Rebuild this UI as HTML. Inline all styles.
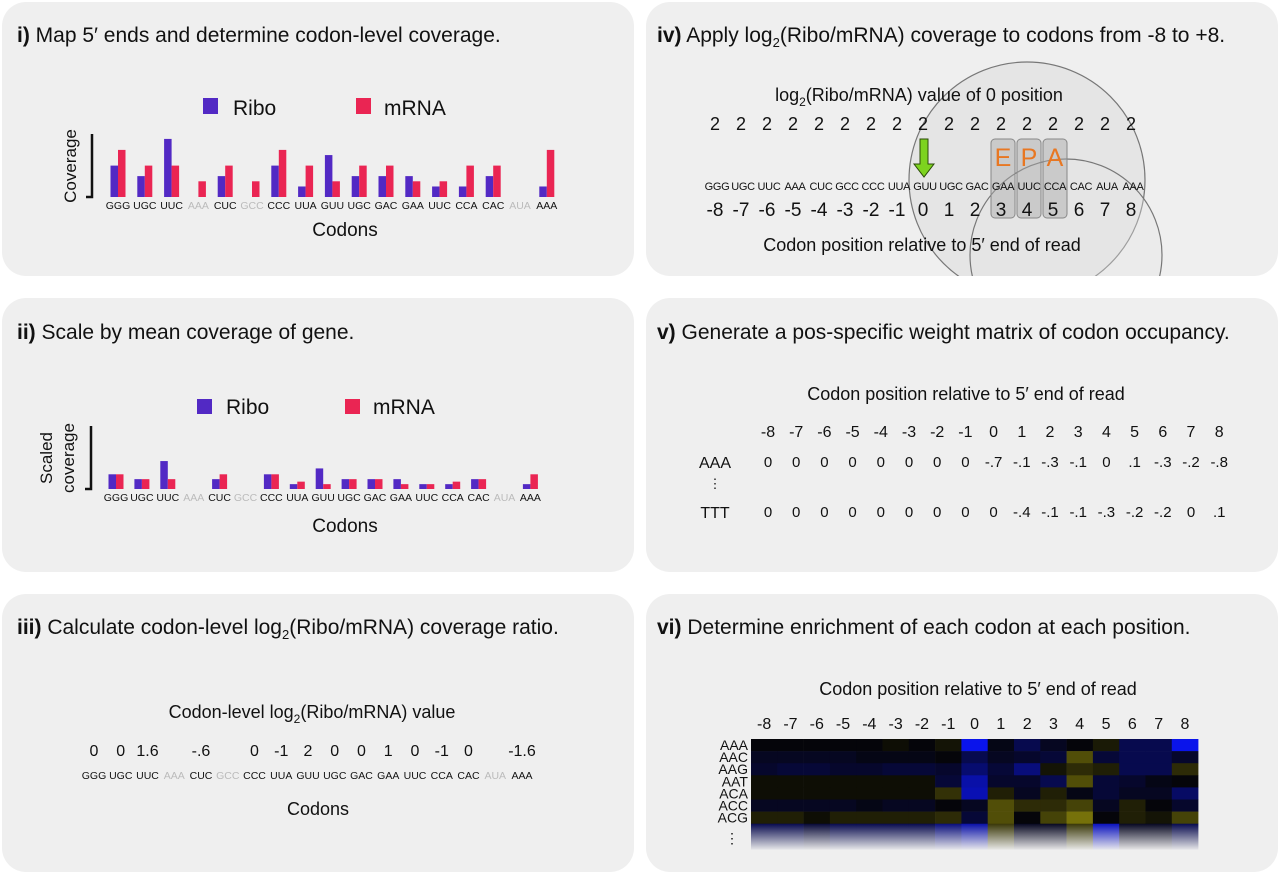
<!DOCTYPE html>
<html><head><meta charset="utf-8"><style>
html,body{margin:0;padding:0;background:#fff}
svg{display:block;font-family:"Liberation Sans",Arial,sans-serif}
</style></head><body>
<svg id="fig" width="1280" height="876" viewBox="0 0 1280 876" xmlns="http://www.w3.org/2000/svg">
<defs>
<linearGradient id="fadeG" x1="0" y1="0" x2="0" y2="1">
<stop offset="0" stop-color="#efefef" stop-opacity="0"/><stop offset="1" stop-color="#efefef" stop-opacity="1"/>
</linearGradient>
<clipPath id="clip4"><rect x="646" y="2" width="632" height="274" rx="24"/></clipPath>
</defs>
<rect x="2" y="2" width="632" height="274" rx="24" fill="#efefef"/>
<rect x="646" y="2" width="632" height="274" rx="24" fill="#efefef"/>
<rect x="2" y="298" width="632" height="274" rx="24" fill="#efefef"/>
<rect x="646" y="298" width="632" height="274" rx="24" fill="#efefef"/>
<rect x="2" y="594" width="632" height="278" rx="24" fill="#efefef"/>
<rect x="646" y="594" width="632" height="278" rx="24" fill="#efefef"/>

<g font-size="21" fill="#111">
<text x="17" y="42"><tspan font-weight="bold">i)</tspan> Map 5′ ends and determine codon-level coverage.</text>
<text x="17" y="339"><tspan font-weight="bold">ii)</tspan> Scale by mean coverage of gene.</text>
<text x="17" y="634"><tspan font-weight="bold">iii)</tspan> Calculate codon-level log<tspan font-size="13" dy="5">2</tspan><tspan dy="-5">(Ribo/mRNA) coverage ratio.</tspan></text>
<text x="657" y="42"><tspan font-weight="bold">iv)</tspan> Apply log<tspan font-size="13" dy="5">2</tspan><tspan dy="-5">(Ribo/mRNA) coverage to codons from -8 to +8.</tspan></text>
<text x="657" y="339"><tspan font-weight="bold">v)</tspan> Generate a pos-specific weight matrix of codon occupancy.</text>
<text x="657" y="634"><tspan font-weight="bold">vi)</tspan> Determine enrichment of each codon at each position.</text>
</g>

<!-- panel i legend/axes -->
<g font-size="21" fill="#111">
<rect x="203" y="98" width="15" height="16" fill="#5229c4"/>
<text x="233" y="115">Ribo</text>
<rect x="356" y="98" width="15" height="16" fill="#ea2553"/>
<text x="384" y="115">mRNA</text>
<path d="M92 134 V197 H86" stroke="#111" stroke-width="2.5" fill="none"/>
<text transform="translate(76,166) rotate(-90)" text-anchor="middle" font-size="17">Coverage</text>
<text x="345" y="236" text-anchor="middle" font-size="19">Codons</text>
</g>
<g id="barsI"></g>

<!-- panel ii -->
<g font-size="21" fill="#111">
<rect x="197" y="399" width="15" height="15" fill="#5229c4"/>
<text x="226" y="414">Ribo</text>
<rect x="345" y="399" width="15" height="15" fill="#ea2553"/>
<text x="373" y="414">mRNA</text>
<path d="M91 426 V489 H85" stroke="#111" stroke-width="2.5" fill="none"/>
<text transform="translate(52,458) rotate(-90)" text-anchor="middle" font-size="17">Scaled</text>
<text transform="translate(74,458) rotate(-90)" text-anchor="middle" font-size="17">coverage</text>
<text x="345" y="532" text-anchor="middle" font-size="19">Codons</text>
</g>
<g id="barsII"></g>

<!-- panel iii -->
<g fill="#111">
<text x="312" y="718" text-anchor="middle" font-size="18">Codon-level log<tspan font-size="12" dy="5">2</tspan><tspan dy="-5">(Ribo/mRNA) value</tspan></text>
<text x="318" y="815" text-anchor="middle" font-size="18">Codons</text>
</g>
<g id="ratioIII"></g>

<!-- panel iv -->
<g clip-path="url(#clip4)">
<circle cx="1027" cy="180" r="118" fill="#dcdcdc" fill-opacity="0.5" stroke="#777" stroke-width="1.2"/>
<circle cx="1066" cy="255" r="96" fill="#e4e4e4" fill-opacity="0.35" stroke="#777" stroke-width="1.2"/>
</g>
<rect x="991" y="139" width="24" height="79" rx="4" fill="#a8a8a8" fill-opacity="0.45" stroke="#888"/>
<rect x="1017" y="139" width="24" height="79" rx="4" fill="#a8a8a8" fill-opacity="0.45" stroke="#888"/>
<rect x="1043" y="139" width="24" height="79" rx="4" fill="#a8a8a8" fill-opacity="0.45" stroke="#888"/>
<g font-size="25" fill="#e87722" text-anchor="middle">
<text x="1003" y="166">E</text>
<text x="1029" y="166">P</text>
<text x="1055" y="166">A</text>
</g>
<path d="M920 139 H928 V164 H934 L924 177 L914 164 H920 Z" fill="#7dd31f" stroke="#2a4a08" stroke-width="1"/>
<text x="919" y="101" text-anchor="middle" font-size="18" fill="#111">log<tspan font-size="12" dy="5">2</tspan><tspan dy="-5">(Ribo/mRNA) value of 0 position</tspan></text>
<text x="922" y="251" text-anchor="middle" font-size="18" fill="#111">Codon position relative to 5′ end of read</text>
<g id="seqIV"></g>

<!-- panel v -->
<text x="966" y="400" text-anchor="middle" font-size="18" fill="#111">Codon position relative to 5′ end of read</text>
<g id="pwmV"></g>

<!-- panel vi -->
<text x="978" y="695" text-anchor="middle" font-size="18" fill="#111">Codon position relative to 5′ end of read</text>
<g id="heatVI"></g>
</svg>
<script>
const NS="http://www.w3.org/2000/svg";
const codons=["GGG","UGC","UUC","AAA","CUC","GCC","CCC","UUA","GUU","UGC","GAC","GAA","UUC","CCA","CAC","AUA","AAA"];
const greyed=[false,false,false,true,false,true,false,false,false,false,false,false,false,false,false,true,false];
const riboCov=[2,1.33,3.7,0,1.33,0,2,0.67,2.67,1.33,1.33,1.33,0.67,0.67,1.33,0,0.67];
const mrnaCov=[3,2,2,1,2,1,3,2,1,2,2,1,1,2,2,0,3];
const riboScaled=[1,0.67,1.9,0,0.67,0,1,0.33,1.4,0.67,0.67,0.67,0.33,0.33,0.67,0,0.33];
const mrnaScaled=[1,0.67,0.67,0,1,0,1,0.5,0.33,0.67,0.67,0.33,0.33,0.5,0.67,0,1];
const ratioLabels=["0","0","1.6","","-.6","","0","-1","2","0","0","1","0","-1","0","","-1.6"];
const positions=["-8","-7","-6","-5","-4","-3","-2","-1","0","1","2","3","4","5","6","7","8"];
const zeroValues=[2,2,2,2,2,2,2,2,2,2,2,2,2,2,2,2,2];
const seqIV=["GGG","UGC","UUC","AAA","CUC","GCC","CCC","UUA","GUU","UGC","GAC","GAA","UUC","CCA","CAC","AUA","AAA"];
const pwmRows=["AAA","TTT"];
const pwmAAA=["0","0","0","0","0","0","0","0","-.7","-.1","-.3","-.1","0",".1","-.3","-.2","-.8"];
const pwmTTT=["0","0","0","0","0","0","0","0","0","-.4","-.1","-.1","-.3","-.2","-.2","0",".1"];
const heatRows=["AAA","AAC","AAG","AAT","ACA","ACC","ACG"];
const heatVals=[
[0,0,0,0,0,-0.05,0,-0.1,1,0.05,0.3,0.1,0,-0.15,0.3,0.3,1],
[0.1,0.1,0.1,0.1,0.05,0.05,0.05,0,0.3,0.1,0.15,0.2,-0.6,0.2,0.3,0.3,0.15],
[0.15,0.2,0.2,0.15,0.15,0.2,0.2,0.15,0.45,0.2,0.5,-0.1,-0.3,-0.2,0.3,0.3,-0.3],
[-0.05,-0.05,-0.05,-0.05,-0.05,-0.05,-0.05,0.2,0.7,0.15,0.15,0.3,-0.6,0.2,0.15,0.05,0],
[-0.05,-0.05,-0.05,-0.05,-0.05,-0.05,-0.05,-0.35,0.75,-0.2,0.1,-0.2,0.05,0.2,0.1,0.1,0.4],
[0.1,0.1,0.1,0.1,0.05,0.1,0.1,0,0.1,-0.6,-0.3,-0.3,-0.5,0.1,-0.2,0,0.15],
[-0.2,-0.2,-0.05,-0.2,-0.2,-0.2,-0.2,-0.3,0.2,-0.6,0,-0.5,-0.9,0,-0.2,-0.1,-0.5]];
const heatFade=[0.3,0.3,0.2,0.3,0.3,0.3,0.3,0.5,0.7,-0.4,0.1,0.1,-0.4,0.8,0.1,0.1,0.3];

function mk(tag,attrs,parent,text){const e=document.createElementNS(NS,tag);for(const k in attrs)e.setAttribute(k,attrs[k]);if(text!==undefined)e.textContent=text;parent.appendChild(e);return e;}

function drawBars(gid,ribo,mrna,x0,step,base,unit,bw,labY){
  const g=document.getElementById(gid);
  const xs=i=>x0+i*step;
  const ys=v=>v*unit;
  codons.forEach((c,i)=>{
    const cx=xs(i);
    if(ribo[i]>0){const r=mk("rect",{x:cx-bw,y:base-ys(ribo[i]),width:bw,height:ys(ribo[i]),fill:"#5229c4"},g);
      
      }
    if(mrna[i]>0){const r=mk("rect",{x:cx,y:base-ys(mrna[i]),width:bw,height:ys(mrna[i]),fill:"#ea2553"},g);
      
      }
    const t=mk("text",{x:cx,y:labY,"text-anchor":"middle","font-size":"10.5",fill:greyed[i]?"#bbb":"#111"},g,c);
    
    
  });
}
drawBars("barsI",riboCov,mrnaCov,118,26.8,197,15.7,7.5,209);
drawBars("barsII",riboScaled,mrnaScaled,116,25.9,489,14.7,7.5,501);

(function(){
  const g=document.getElementById("ratioIII");
  const xs=i=>94+i*26.75;
  codons.forEach((c,i)=>{
    const t=mk("text",{x:xs(i),y:779,"text-anchor":"middle","font-size":"10.5",fill:greyed[i]?"#bbb":"#111"},g,c);
    
    
    if(ratioLabels[i]!==""){const v=mk("text",{x:xs(i),y:756,"text-anchor":"middle","font-size":"16",fill:"#111"},g,ratioLabels[i]);
      
      }
  });
})();

(function(){
  const g=document.getElementById("seqIV");
  const xs=i=>715+i*26.0;
  seqIV.forEach((c,i)=>{
    const t=mk("text",{x:xs(i)+2,y:190,"text-anchor":"middle","font-size":"11","letter-spacing":"-0.3",fill:"#111"},g,c);
    
    
    const p=mk("text",{x:xs(i),y:216,"text-anchor":"middle","font-size":"19",fill:"#111"},g,positions[i]);
    
    
    const z=mk("text",{x:xs(i),y:130,"text-anchor":"middle","font-size":"18",fill:"#111"},g,String(zeroValues[i]));
    
    
  });
})();

(function(){
  const g=document.getElementById("pwmV");
  const xs=i=>768+i*28.2;
  positions.forEach((p,i)=>{
    const t=mk("text",{x:xs(i),y:437,"text-anchor":"middle","font-size":"16",fill:"#111"},g,p);
    
    
    const a=mk("text",{x:xs(i),y:467,"text-anchor":"middle","font-size":"15",fill:"#111"},g,pwmAAA[i]);
    
    
    const b=mk("text",{x:xs(i),y:517,"text-anchor":"middle","font-size":"15",fill:"#111"},g,pwmTTT[i]);
    
    
  });
  const r1=mk("text",{x:715,y:468,"text-anchor":"middle","font-size":"16",fill:"#111"},g,pwmRows[0]);
  
  
  const r2=mk("text",{x:715,y:518,"text-anchor":"middle","font-size":"16",fill:"#111"},g,pwmRows[1]);
  
  
  const d=mk("text",{x:715,y:488,"text-anchor":"middle","font-size":"13",fill:"#111"},g,"⋮");
  
  
})();

(function(){
  const g=document.getElementById("heatVI");
  const x0=751,cw=26.3,y0=739,rh=12.1;
  const xs=i=>x0+i*cw;
  const ys=r=>y0+r*rh;
  function col(v){
    if(v>=0){return "rgb("+Math.round(5+5*v)+","+Math.round(5+15*v)+","+Math.round(10+225*v)+")";}
    const a=-v;return "rgb("+Math.round(8+122*a)+","+Math.round(8+117*a)+","+Math.round(5+5*a)+")";
  }
  positions.forEach((p,i)=>{
    const t=mk("text",{x:xs(i)+cw/2,y:729,"text-anchor":"middle","font-size":"16",fill:"#111"},g,p);
    
    
  });
  heatRows.forEach((rn,r)=>{
    const t=mk("text",{x:748,y:ys(r)+11,"text-anchor":"end","font-size":"14",fill:"#111"},g,rn);
    
    
    heatVals[r].forEach((v,i)=>{
      const c=mk("rect",{x:xs(i),y:ys(r),width:cw+0.3,height:rh+0.3,fill:col(v)},g);
      
      
    });
  });
  heatFade.forEach((v,i)=>{
    const c=mk("rect",{x:xs(i),y:ys(7),width:cw+0.3,height:26,fill:col(v)},g);
    
    
  });
  const f=mk("rect",{x:x0,y:ys(7),width:cw*17+1,height:27,fill:"url(#fadeG)"},g);
  
  
  const d=mk("text",{x:732,y:843,"text-anchor":"middle","font-size":"14",fill:"#111"},g,"⋮");
  
  
})();
</script>
</body></html>
